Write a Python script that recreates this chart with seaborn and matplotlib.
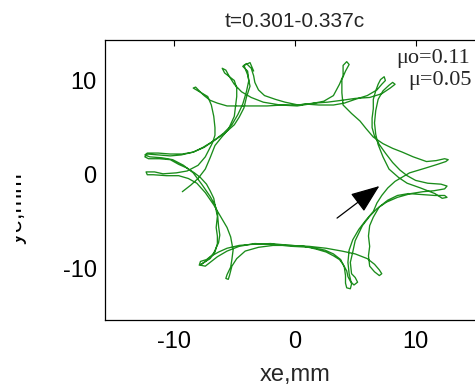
import matplotlib
matplotlib.use("Agg")
import matplotlib.pyplot as plt
import pandas as pd
import seaborn as sns
from matplotlib.transforms import Affine2D
from matplotlib.textpath import TextPath
from matplotlib.patches import PathPatch, Rectangle
from matplotlib.font_manager import FontProperties

# trajectory, one lap at a time (xe, ye in mm)
lap1 = [(-3.4, 11.0), (-3.7, 11.9), (-4.2, 11.6), (-3.9, 10.6),
        (-3.7, 9.4), (-4.0, 8.2), (-4.2, 7.1), (-4.6, 6.1), (-5.0, 5.3), (-5.8, 4.4), (-6.6, 3.7),
        (-7.5, 2.9), (-8.4, 2.4), (-9.4, 2.1), (-10.3, 2.0), (-11.3, 2.1),
        (-12.2, 2.2), (-12.4, 1.9), (-12.1, 1.7),
        (-11.2, 1.7), (-10.3, 1.6), (-9.6, 1.1), (-8.9, 0.7), (-8.3, 0.2), (-7.8, -0.3), (-7.3, -1.0),
        (-7.0, -1.7), (-6.7, -2.5), (-6.6, -3.2), (-6.4, -4.4), (-6.5, -5.6), (-6.4, -6.5), (-6.4, -7.3),
        (-6.6, -8.2), (-7.0, -8.9),
        (-7.5, -9.3), (-7.9, -9.6), (-7.8, -9.2), (-7.3, -9.0),
        (-7.0, -8.7), (-6.3, -8.2), (-5.6, -7.8), (-4.6, -7.5), (-3.7, -7.4), (-2.0, -7.3), (-0.3, -7.5),
        (0.8, -7.6), (1.8, -7.9), (2.6, -8.2), (3.2, -8.6), (3.7, -9.0), (4.0, -9.5), (4.3, -10.2), (4.4, -10.8),
        (4.6, -11.3), (4.9, -11.7), (5.2, -11.4), (5.0, -10.9),
        (4.7, -10.5), (4.6, -9.3), (4.8, -8.2), (5.0, -7.0), (5.6, -5.4), (6.2, -4.4), (6.8, -3.6),
        (7.6, -2.9), (8.5, -2.4), (9.6, -2.0), (10.6, -1.8), (11.5, -1.7),
        (12.4, -1.5), (12.6, -1.2), (12.1, -1.0),
        (11.0, -0.9), (10.0, -0.6), (9.3, -0.1), (8.7, 0.5), (8.1, 1.3), (7.5, 2.3), (7.0, 3.2), (6.6, 4.1),
        (6.4, 5.0), (6.4, 6.0), (6.5, 7.0), (6.5, 8.0), (6.7, 8.9), (6.9, 9.6),
        (7.1, 10.1), (7.4, 10.4), (7.5, 10.0), (7.2, 9.6),
        (6.8, 9.0), (6.0, 8.4), (5.0, 8.0), (4.1, 7.6), (3.2, 7.4), (2.0, 7.4), (0.9, 7.5), (0.2, 7.4),
        (-1.0, 7.4), (-2.3, 7.3), (-3.7, 7.3), (-4.7, 7.3), (-5.6, 7.3), (-6.4, 7.6), (-7.0, 7.9),
        (-7.5, 8.4), (-7.9, 8.9), (-8.2, 9.3)]

lap2 = [(-8.2, 9.3), (-8.4, 9.2), (-8.0, 8.9),
        (-7.2, 8.3), (-6.9, 7.4), (-6.7, 6.2), (-6.6, 5.0), (-6.6, 4.2), (-6.8, 3.4), (-7.0, 2.9),
        (-7.4, 1.9), (-8.0, 1.0), (-8.9, 0.4), (-9.8, 0.2), (-10.9, 0.1), (-11.6, 0.3),
        (-12.3, 0.3), (-12.2, 0.0), (-11.7, 0.0),
        (-10.6, -0.1), (-9.6, -0.1), (-8.8, -0.4), (-8.1, -0.9), (-7.4, -1.9), (-6.7, -3.2), (-6.1, -4.5),
        (-5.6, -5.6), (-5.3, -6.6), (-5.1, -8.0), (-5.2, -9.0), (-5.3, -9.8), (-5.6, -10.6),
        (-5.7, -11.0), (-5.5, -11.1), (-5.4, -10.7),
        (-5.2, -9.7), (-4.8, -8.9), (-4.1, -8.1), (-3.0, -7.7), (-1.8, -7.5), (-0.3, -7.5), (1.2, -7.6),
        (2.6, -7.8), (3.9, -8.1), (5.0, -8.4), (6.0, -8.9), (6.6, -9.5), (7.0, -10.1),
        (7.2, -10.5), (7.0, -10.7), (6.6, -10.3),
        (6.2, -9.7), (6.1, -8.6), (6.2, -7.6), (6.1, -6.5), (6.2, -5.4), (6.5, -4.5), (7.0, -3.4),
        (7.7, -2.7), (8.5, -2.2), (9.4, -2.0), (10.5, -2.1), (11.6, -2.2),
        (12.4, -2.2), (12.6, -2.4), (12.2, -2.5),
        (11.6, -2.0), (10.4, -1.4), (9.3, -0.9), (8.6, -0.3), (7.8, 0.6), (7.3, 1.9), (6.9, 3.2),
        (6.7, 4.3), (6.6, 5.5), (6.7, 6.8), (6.9, 8.0), (7.3, 8.9), (7.8, 9.5),
        (8.1, 9.8), (8.3, 9.6), (7.9, 9.2),
        (7.2, 8.6), (6.2, 8.2), (5.0, 8.1), (3.9, 7.9), (2.7, 7.7), (1.6, 7.6), (0.3, 7.4), (-0.8, 7.7),
        (-1.6, 8.0), (-2.5, 8.4), (-3.0, 9.0), (-3.3, 9.8), (-3.4, 10.5),
        (-3.6, 11.3), (-4.0, 11.8), (-4.3, 11.5), (-3.9, 11.0)]

lap3 = [(-3.9, 11.0), (-3.8, 10.0), (-4.0, 8.8), (-4.3, 7.5), (-4.7, 6.4), (-5.2, 5.3), (-5.9, 4.4),
        (-6.7, 3.6), (-7.6, 2.9), (-8.4, 2.4), (-9.3, 2.2), (-10.3, 2.2), (-11.3, 2.3),
        (-12.2, 2.3), (-12.4, 2.1), (-12.0, 1.9),
        (-11.0, 1.8), (-10.1, 1.6), (-9.2, 1.0), (-8.4, 0.2), (-7.7, -1.0), (-7.0, -2.3), (-6.6, -3.2),
        (-6.4, -4.0), (-6.3, -5.5), (-6.2, -6.4), (-6.3, -7.2), (-6.7, -8.3), (-7.1, -8.9),
        (-7.5, -9.3), (-7.8, -9.6), (-7.4, -9.7), (-7.0, -9.3),
        (-6.4, -8.7), (-5.6, -8.1), (-4.6, -7.6), (-3.3, -7.3), (-1.7, -7.4), (-0.2, -7.6), (1.3, -7.7),
        (2.5, -8.0), (3.2, -8.4), (3.8, -9.0), (4.1, -9.8), (4.2, -10.7), (4.2, -11.5),
        (4.3, -12.0), (4.6, -12.1), (4.7, -11.6),
        (4.5, -10.5), (4.4, -9.3), (4.5, -8.0), (4.8, -6.9), (5.3, -5.8), (5.9, -4.8), (6.5, -3.9),
        (6.8, -3.0), (7.2, -2.2), (7.7, -1.4), (8.3, -0.7), (9.5, 0.2), (10.8, 0.7), (11.8, 1.1),
        (12.5, 1.4), (12.7, 1.6), (12.4, 1.7),
        (11.7, 1.5), (10.9, 1.4), (9.8, 1.9), (8.9, 2.4), (8.1, 2.8), (7.3, 3.3), (6.5, 4.0), (5.9, 4.9),
        (5.4, 5.7), (4.7, 6.5), (4.0, 7.4), (3.9, 8.7), (3.9, 10.1), (4.2, 11.0),
        (4.5, 11.7), (4.3, 12.0), (4.0, 11.6),
        (4.0, 10.5), (3.7, 9.6), (3.2, 8.4), (2.4, 7.8), (1.2, 7.5), (0.2, 7.3), (-1.2, 7.4), (-2.6, 7.7),
        (-3.6, 8.2), (-4.4, 8.8), (-5.0, 9.6), (-5.4, 10.4),
        (-5.7, 11.1), (-6.0, 11.3), (-5.8, 10.8),
        (-5.0, 10.0), (-4.8, 9.2), (-4.8, 8.3), (-4.9, 7.2), (-5.0, 6.2), (-5.5, 4.8), (-6.1, 3.9),
        (-6.6, 3.1), (-7.0, 1.8), (-7.4, 0.6), (-8.0, -0.4), (-8.6, -1.1), (-9.3, -1.8)]

x_ticks = [-10, 0, 10]
y_ticks = [-10, 0, 10]
arrow_tail = (3.5, -4.6)
arrow_head = (7.0, -1.2)
title_text = "t=0.301-0.337c"
mu_labels = ["\u03bco=0.11", "\u03bc=0.05"]

frames = []
for i, lap in enumerate([lap1, lap2, lap3]):
    d = pd.DataFrame(lap, columns=["xe", "ye"])
    d["lap"] = i
    frames.append(d)
df = pd.concat(frames, ignore_index=True)

sns.set_style("white")
plt.rcParams["font.family"] = ["Liberation Sans", "DejaVu Sans"]
plt.rcParams["axes.unicode_minus"] = False

fig = plt.figure(figsize=(4.75, 3.92), dpi=100)
ax = fig.add_axes([0.221, 0.184, 0.799, 0.714])

sns.lineplot(data=df, x="xe", y="ye", sort=False, estimator=None,
             color="#1a8c1a", lw=0.95, ax=ax)

ax.set_xlim(-15.7, 15.7)
ax.set_ylim(-15.4, 14.3)
ax.set_xticks(x_ticks)
ax.set_yticks(y_ticks)
ax.tick_params(direction="in", length=4, width=0.8, top=True, right=True,
               labelsize=17, colors="black")
ax.tick_params(axis="x", pad=8)
ax.tick_params(axis="y", pad=6)
for s in ax.spines.values():
    s.set_color("black")
    s.set_linewidth(0.9)

ax.set_title(title_text, fontsize=15, pad=9)
ax.set_xlabel("xe,mm", fontsize=17, labelpad=8)
ax.set_ylabel("")

serif = ["Liberation Serif", "DejaVu Serif"]
ax.text(14.5, 11.9, mu_labels[0], ha="right", va="baseline", fontsize=16, family=serif)
ax.text(14.65, 9.5, mu_labels[1], ha="right", va="baseline", fontsize=16, family=serif)

ax.annotate("", xy=arrow_head, xytext=arrow_tail,
            arrowprops=dict(arrowstyle="-|>,head_length=0.9,head_width=0.35",
                            mutation_scale=20, color="black", lw=0.9,
                            shrinkA=0, shrinkB=0))

# y label: only a sliver is left inside the picture, the rest is cut by the left edge
ypath = TextPath((0, 0), "ye,mm", size=17 * 100 / 72, prop=FontProperties(family="Liberation Sans"))
ylab = PathPatch(ypath, transform=Affine2D().rotate_deg(90).translate(21, 392 - 245),
                 facecolor="black", edgecolor="none")
fig.add_artist(ylab)
keep = Rectangle((16 / 475, 0), 1, 1, transform=fig.transFigure)
ylab.set_clip_path(keep)

fig.savefig("out.png", dpi=100)
